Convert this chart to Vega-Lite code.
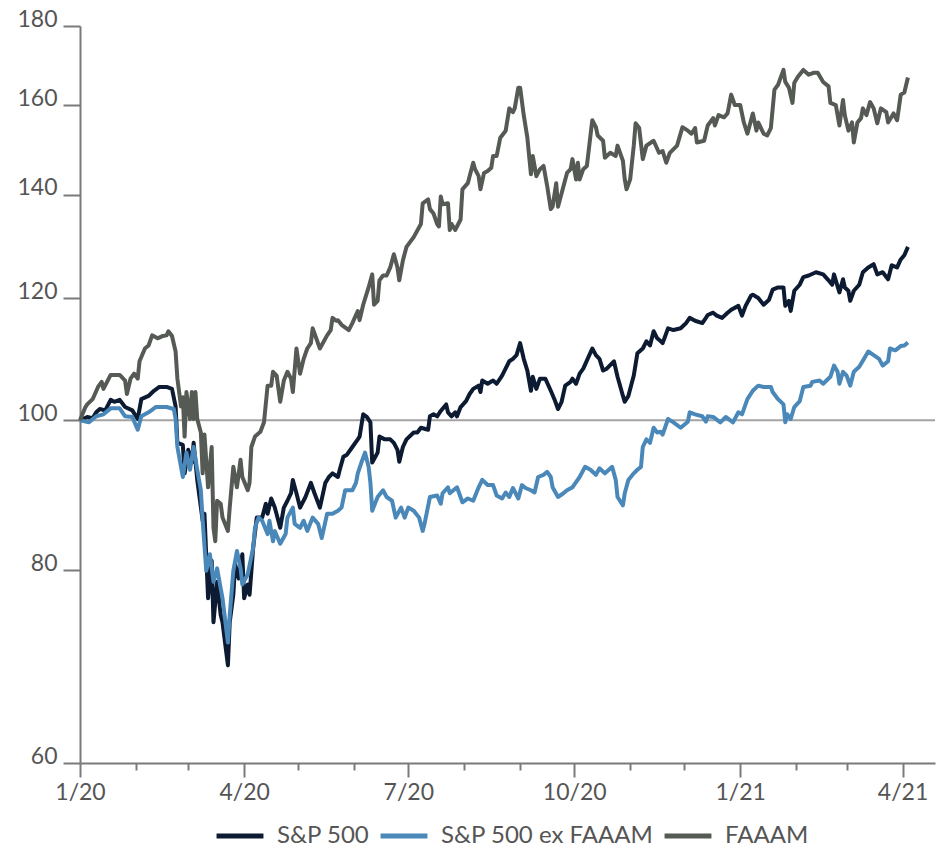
{
  "$schema": "https://vega.github.io/schema/vega-lite/v6.json",
  "width": 855,
  "height": 737,
  "autosize": {"type": "none"},
  "padding": {"left": 80, "top": 26, "right": 7, "bottom": 85},
  "background": "white",
  "config": {"view": {"stroke": null}},
  "data": {"values": [
{"date":"2020-01-01","series":"S&P 500","value":100},{"date":"2020-01-05","series":"S&P 500","value":100.5},{"date":"2020-01-08","series":"S&P 500","value":100.3},{"date":"2020-01-10","series":"S&P 500","value":101.2},{"date":"2020-01-12","series":"S&P 500","value":101.7},{"date":"2020-01-15","series":"S&P 500","value":101.5},{"date":"2020-01-18","series":"S&P 500","value":103.1},{"date":"2020-01-20","series":"S&P 500","value":102.8},{"date":"2020-01-23","series":"S&P 500","value":103.1},{"date":"2020-01-26","series":"S&P 500","value":102.0},{"date":"2020-01-30","series":"S&P 500","value":101.5},{"date":"2020-02-02","series":"S&P 500","value":100.2},{"date":"2020-02-04","series":"S&P 500","value":103.2},{"date":"2020-02-08","series":"S&P 500","value":103.7},{"date":"2020-02-11","series":"S&P 500","value":104.5},{"date":"2020-02-14","series":"S&P 500","value":105.1},{"date":"2020-02-18","series":"S&P 500","value":105.1},{"date":"2020-02-21","series":"S&P 500","value":104.8},{"date":"2020-02-23","series":"S&P 500","value":102.1},{"date":"2020-02-24","series":"S&P 500","value":96.7},{"date":"2020-02-27","series":"S&P 500","value":96.4},{"date":"2020-02-28","series":"S&P 500","value":92.4},{"date":"2020-03-01","series":"S&P 500","value":95.7},{"date":"2020-03-03","series":"S&P 500","value":93.9},{"date":"2020-03-04","series":"S&P 500","value":96.7},{"date":"2020-03-06","series":"S&P 500","value":91.5},{"date":"2020-03-09","series":"S&P 500","value":86.1},{"date":"2020-03-10","series":"S&P 500","value":87.0},{"date":"2020-03-12","series":"S&P 500","value":76.7},{"date":"2020-03-14","series":"S&P 500","value":81.1},{"date":"2020-03-15","series":"S&P 500","value":74.0},{"date":"2020-03-17","series":"S&P 500","value":78.6},{"date":"2020-03-19","series":"S&P 500","value":74.8},{"date":"2020-03-20","series":"S&P 500","value":74.0},{"date":"2020-03-23","series":"S&P 500","value":69.4},{"date":"2020-03-24","series":"S&P 500","value":74.0},{"date":"2020-03-26","series":"S&P 500","value":77.1},{"date":"2020-03-27","series":"S&P 500","value":80.7},{"date":"2020-03-29","series":"S&P 500","value":79.0},{"date":"2020-03-31","series":"S&P 500","value":81.9},{"date":"2020-04-01","series":"S&P 500","value":76.7},{"date":"2020-04-03","series":"S&P 500","value":78.3},{"date":"2020-04-04","series":"S&P 500","value":77.1},{"date":"2020-04-06","series":"S&P 500","value":82.7},{"date":"2020-04-08","series":"S&P 500","value":86.5},{"date":"2020-04-11","series":"S&P 500","value":86.5},{"date":"2020-04-13","series":"S&P 500","value":88.3},{"date":"2020-04-14","series":"S&P 500","value":87.0},{"date":"2020-04-16","series":"S&P 500","value":89.0},{"date":"2020-04-18","series":"S&P 500","value":87.8},{"date":"2020-04-21","series":"S&P 500","value":85.2},{"date":"2020-04-23","series":"S&P 500","value":87.8},{"date":"2020-04-25","series":"S&P 500","value":88.7},{"date":"2020-04-27","series":"S&P 500","value":89.7},{"date":"2020-04-28","series":"S&P 500","value":91.5},{"date":"2020-04-30","series":"S&P 500","value":89.7},{"date":"2020-05-02","series":"S&P 500","value":87.8},{"date":"2020-05-05","series":"S&P 500","value":89.2},{"date":"2020-05-08","series":"S&P 500","value":91.1},{"date":"2020-05-10","series":"S&P 500","value":89.7},{"date":"2020-05-13","series":"S&P 500","value":87.8},{"date":"2020-05-16","series":"S&P 500","value":91.1},{"date":"2020-05-18","series":"S&P 500","value":91.9},{"date":"2020-05-20","series":"S&P 500","value":92.4},{"date":"2020-05-23","series":"S&P 500","value":91.9},{"date":"2020-05-24","series":"S&P 500","value":92.9},{"date":"2020-05-26","series":"S&P 500","value":94.7},{"date":"2020-05-28","series":"S&P 500","value":95.0},{"date":"2020-05-31","series":"S&P 500","value":96.1},{"date":"2020-06-03","series":"S&P 500","value":97.2},{"date":"2020-06-04","series":"S&P 500","value":97.6},{"date":"2020-06-06","series":"S&P 500","value":100.9},{"date":"2020-06-08","series":"S&P 500","value":100.5},{"date":"2020-06-10","series":"S&P 500","value":99.7},{"date":"2020-06-11","series":"S&P 500","value":93.9},{"date":"2020-06-14","series":"S&P 500","value":95.3},{"date":"2020-06-15","series":"S&P 500","value":97.6},{"date":"2020-06-18","series":"S&P 500","value":97.2},{"date":"2020-06-21","series":"S&P 500","value":97.2},{"date":"2020-06-23","series":"S&P 500","value":96.7},{"date":"2020-06-25","series":"S&P 500","value":95.7},{"date":"2020-06-26","series":"S&P 500","value":94.0},{"date":"2020-06-28","series":"S&P 500","value":96.1},{"date":"2020-06-30","series":"S&P 500","value":97.2},{"date":"2020-07-04","series":"S&P 500","value":98.2},{"date":"2020-07-06","series":"S&P 500","value":98.2},{"date":"2020-07-08","series":"S&P 500","value":98.9},{"date":"2020-07-12","series":"S&P 500","value":98.6},{"date":"2020-07-13","series":"S&P 500","value":100.6},{"date":"2020-07-15","series":"S&P 500","value":100.9},{"date":"2020-07-17","series":"S&P 500","value":100.6},{"date":"2020-07-19","series":"S&P 500","value":101.4},{"date":"2020-07-22","series":"S&P 500","value":102.4},{"date":"2020-07-23","series":"S&P 500","value":101.2},{"date":"2020-07-25","series":"S&P 500","value":100.6},{"date":"2020-07-27","series":"S&P 500","value":101.2},{"date":"2020-07-28","series":"S&P 500","value":100.6},{"date":"2020-07-30","series":"S&P 500","value":102.0},{"date":"2020-08-02","series":"S&P 500","value":102.9},{"date":"2020-08-04","series":"S&P 500","value":104.0},{"date":"2020-08-06","series":"S&P 500","value":104.8},{"date":"2020-08-09","series":"S&P 500","value":105.3},{"date":"2020-08-10","series":"S&P 500","value":104.3},{"date":"2020-08-11","series":"S&P 500","value":106.1},{"date":"2020-08-14","series":"S&P 500","value":105.6},{"date":"2020-08-17","series":"S&P 500","value":106.1},{"date":"2020-08-19","series":"S&P 500","value":105.6},{"date":"2020-08-22","series":"S&P 500","value":106.9},{"date":"2020-08-26","series":"S&P 500","value":109.2},{"date":"2020-08-28","series":"S&P 500","value":109.6},{"date":"2020-08-30","series":"S&P 500","value":110.2},{"date":"2020-09-01","series":"S&P 500","value":112.2},{"date":"2020-09-03","series":"S&P 500","value":109.6},{"date":"2020-09-05","series":"S&P 500","value":107.7},{"date":"2020-09-07","series":"S&P 500","value":104.5},{"date":"2020-09-08","series":"S&P 500","value":106.7},{"date":"2020-09-10","series":"S&P 500","value":104.8},{"date":"2020-09-12","series":"S&P 500","value":106.4},{"date":"2020-09-15","series":"S&P 500","value":106.4},{"date":"2020-09-18","series":"S&P 500","value":104.5},{"date":"2020-09-20","series":"S&P 500","value":103.2},{"date":"2020-09-22","series":"S&P 500","value":101.7},{"date":"2020-09-24","series":"S&P 500","value":102.8},{"date":"2020-09-26","series":"S&P 500","value":105.3},{"date":"2020-09-29","series":"S&P 500","value":105.9},{"date":"2020-09-30","series":"S&P 500","value":106.4},{"date":"2020-10-02","series":"S&P 500","value":105.6},{"date":"2020-10-04","series":"S&P 500","value":107.2},{"date":"2020-10-06","series":"S&P 500","value":108.0},{"date":"2020-10-08","series":"S&P 500","value":109.3},{"date":"2020-10-11","series":"S&P 500","value":111.3},{"date":"2020-10-13","series":"S&P 500","value":110.2},{"date":"2020-10-15","series":"S&P 500","value":109.6},{"date":"2020-10-17","series":"S&P 500","value":107.7},{"date":"2020-10-19","series":"S&P 500","value":108.0},{"date":"2020-10-23","series":"S&P 500","value":109.2},{"date":"2020-10-25","series":"S&P 500","value":106.7},{"date":"2020-10-28","series":"S&P 500","value":103.7},{"date":"2020-10-29","series":"S&P 500","value":102.8},{"date":"2020-10-31","series":"S&P 500","value":103.7},{"date":"2020-11-03","series":"S&P 500","value":106.9},{"date":"2020-11-05","series":"S&P 500","value":110.5},{"date":"2020-11-08","series":"S&P 500","value":111.3},{"date":"2020-11-10","series":"S&P 500","value":112.5},{"date":"2020-11-12","series":"S&P 500","value":111.8},{"date":"2020-11-14","series":"S&P 500","value":114.2},{"date":"2020-11-16","series":"S&P 500","value":113.0},{"date":"2020-11-18","series":"S&P 500","value":112.5},{"date":"2020-11-19","series":"S&P 500","value":112.2},{"date":"2020-11-20","series":"S&P 500","value":113.0},{"date":"2020-11-22","series":"S&P 500","value":114.7},{"date":"2020-11-25","series":"S&P 500","value":114.4},{"date":"2020-11-29","series":"S&P 500","value":114.7},{"date":"2020-12-02","series":"S&P 500","value":115.6},{"date":"2020-12-04","series":"S&P 500","value":116.5},{"date":"2020-12-07","series":"S&P 500","value":116.0},{"date":"2020-12-11","series":"S&P 500","value":115.6},{"date":"2020-12-13","series":"S&P 500","value":116.5},{"date":"2020-12-14","series":"S&P 500","value":117.0},{"date":"2020-12-17","series":"S&P 500","value":117.4},{"date":"2020-12-19","series":"S&P 500","value":116.9},{"date":"2020-12-22","series":"S&P 500","value":116.5},{"date":"2020-12-25","series":"S&P 500","value":117.4},{"date":"2020-12-27","series":"S&P 500","value":117.9},{"date":"2020-12-31","series":"S&P 500","value":118.6},{"date":"2021-01-02","series":"S&P 500","value":116.9},{"date":"2021-01-04","series":"S&P 500","value":118.6},{"date":"2021-01-07","series":"S&P 500","value":120.4},{"date":"2021-01-08","series":"S&P 500","value":120.6},{"date":"2021-01-11","series":"S&P 500","value":120.0},{"date":"2021-01-14","series":"S&P 500","value":118.8},{"date":"2021-01-17","series":"S&P 500","value":119.7},{"date":"2021-01-19","series":"S&P 500","value":121.5},{"date":"2021-01-22","series":"S&P 500","value":121.9},{"date":"2021-01-25","series":"S&P 500","value":121.9},{"date":"2021-01-26","series":"S&P 500","value":118.6},{"date":"2021-01-28","series":"S&P 500","value":119.5},{"date":"2021-01-29","series":"S&P 500","value":117.7},{"date":"2021-01-31","series":"S&P 500","value":121.3},{"date":"2021-02-03","series":"S&P 500","value":122.4},{"date":"2021-02-05","series":"S&P 500","value":123.8},{"date":"2021-02-08","series":"S&P 500","value":124.1},{"date":"2021-02-12","series":"S&P 500","value":124.7},{"date":"2021-02-16","series":"S&P 500","value":124.3},{"date":"2021-02-19","series":"S&P 500","value":123.2},{"date":"2021-02-21","series":"S&P 500","value":122.4},{"date":"2021-02-22","series":"S&P 500","value":124.3},{"date":"2021-02-25","series":"S&P 500","value":121.0},{"date":"2021-02-27","series":"S&P 500","value":123.4},{"date":"2021-02-28","series":"S&P 500","value":121.9},{"date":"2021-03-02","series":"S&P 500","value":121.3},{"date":"2021-03-03","series":"S&P 500","value":119.5},{"date":"2021-03-05","series":"S&P 500","value":121.3},{"date":"2021-03-08","series":"S&P 500","value":122.4},{"date":"2021-03-10","series":"S&P 500","value":124.7},{"date":"2021-03-13","series":"S&P 500","value":125.6},{"date":"2021-03-16","series":"S&P 500","value":126.2},{"date":"2021-03-18","series":"S&P 500","value":124.3},{"date":"2021-03-21","series":"S&P 500","value":124.7},{"date":"2021-03-24","series":"S&P 500","value":123.4},{"date":"2021-03-26","series":"S&P 500","value":126.0},{"date":"2021-03-29","series":"S&P 500","value":125.6},{"date":"2021-03-31","series":"S&P 500","value":127.1},{"date":"2021-04-02","series":"S&P 500","value":127.9},{"date":"2021-04-04","series":"S&P 500","value":129.5},
{"date":"2020-01-01","series":"S&P 500 ex FAAAM","value":100},{"date":"2020-01-06","series":"S&P 500 ex FAAAM","value":99.7},{"date":"2020-01-10","series":"S&P 500 ex FAAAM","value":100.6},{"date":"2020-01-14","series":"S&P 500 ex FAAAM","value":100.9},{"date":"2020-01-18","series":"S&P 500 ex FAAAM","value":101.8},{"date":"2020-01-23","series":"S&P 500 ex FAAAM","value":101.8},{"date":"2020-01-26","series":"S&P 500 ex FAAAM","value":100.6},{"date":"2020-01-30","series":"S&P 500 ex FAAAM","value":100.5},{"date":"2020-02-02","series":"S&P 500 ex FAAAM","value":98.6},{"date":"2020-02-04","series":"S&P 500 ex FAAAM","value":100.6},{"date":"2020-02-08","series":"S&P 500 ex FAAAM","value":101.2},{"date":"2020-02-12","series":"S&P 500 ex FAAAM","value":102.0},{"date":"2020-02-18","series":"S&P 500 ex FAAAM","value":102.0},{"date":"2020-02-22","series":"S&P 500 ex FAAAM","value":101.7},{"date":"2020-02-23","series":"S&P 500 ex FAAAM","value":100.2},{"date":"2020-02-24","series":"S&P 500 ex FAAAM","value":96.1},{"date":"2020-02-27","series":"S&P 500 ex FAAAM","value":91.9},{"date":"2020-02-29","series":"S&P 500 ex FAAAM","value":95.3},{"date":"2020-03-02","series":"S&P 500 ex FAAAM","value":92.9},{"date":"2020-03-04","series":"S&P 500 ex FAAAM","value":96.1},{"date":"2020-03-06","series":"S&P 500 ex FAAAM","value":92.9},{"date":"2020-03-08","series":"S&P 500 ex FAAAM","value":90.1},{"date":"2020-03-09","series":"S&P 500 ex FAAAM","value":86.1},{"date":"2020-03-11","series":"S&P 500 ex FAAAM","value":79.9},{"date":"2020-03-13","series":"S&P 500 ex FAAAM","value":81.9},{"date":"2020-03-15","series":"S&P 500 ex FAAAM","value":78.6},{"date":"2020-03-17","series":"S&P 500 ex FAAAM","value":80.2},{"date":"2020-03-20","series":"S&P 500 ex FAAAM","value":76.7},{"date":"2020-03-23","series":"S&P 500 ex FAAAM","value":71.8},{"date":"2020-03-24","series":"S&P 500 ex FAAAM","value":74.8},{"date":"2020-03-26","series":"S&P 500 ex FAAAM","value":79.9},{"date":"2020-03-28","series":"S&P 500 ex FAAAM","value":82.3},{"date":"2020-03-30","series":"S&P 500 ex FAAAM","value":80.2},{"date":"2020-03-31","series":"S&P 500 ex FAAAM","value":78.3},{"date":"2020-04-03","series":"S&P 500 ex FAAAM","value":79.5},{"date":"2020-04-06","series":"S&P 500 ex FAAAM","value":82.7},{"date":"2020-04-07","series":"S&P 500 ex FAAAM","value":85.2},{"date":"2020-04-09","series":"S&P 500 ex FAAAM","value":86.5},{"date":"2020-04-11","series":"S&P 500 ex FAAAM","value":86.1},{"date":"2020-04-14","series":"S&P 500 ex FAAAM","value":84.4},{"date":"2020-04-15","series":"S&P 500 ex FAAAM","value":86.1},{"date":"2020-04-17","series":"S&P 500 ex FAAAM","value":83.5},{"date":"2020-04-18","series":"S&P 500 ex FAAAM","value":84.8},{"date":"2020-04-21","series":"S&P 500 ex FAAAM","value":83.2},{"date":"2020-04-24","series":"S&P 500 ex FAAAM","value":84.4},{"date":"2020-04-25","series":"S&P 500 ex FAAAM","value":86.5},{"date":"2020-04-28","series":"S&P 500 ex FAAAM","value":87.8},{"date":"2020-04-29","series":"S&P 500 ex FAAAM","value":85.7},{"date":"2020-05-02","series":"S&P 500 ex FAAAM","value":85.2},{"date":"2020-05-04","series":"S&P 500 ex FAAAM","value":86.1},{"date":"2020-05-06","series":"S&P 500 ex FAAAM","value":84.8},{"date":"2020-05-09","series":"S&P 500 ex FAAAM","value":86.5},{"date":"2020-05-12","series":"S&P 500 ex FAAAM","value":85.7},{"date":"2020-05-14","series":"S&P 500 ex FAAAM","value":83.9},{"date":"2020-05-17","series":"S&P 500 ex FAAAM","value":87.0},{"date":"2020-05-20","series":"S&P 500 ex FAAAM","value":87.0},{"date":"2020-05-23","series":"S&P 500 ex FAAAM","value":87.4},{"date":"2020-05-25","series":"S&P 500 ex FAAAM","value":87.8},{"date":"2020-05-27","series":"S&P 500 ex FAAAM","value":90.1},{"date":"2020-05-31","series":"S&P 500 ex FAAAM","value":90.1},{"date":"2020-06-02","series":"S&P 500 ex FAAAM","value":91.1},{"date":"2020-06-03","series":"S&P 500 ex FAAAM","value":92.4},{"date":"2020-06-05","series":"S&P 500 ex FAAAM","value":93.9},{"date":"2020-06-07","series":"S&P 500 ex FAAAM","value":95.3},{"date":"2020-06-09","series":"S&P 500 ex FAAAM","value":93.3},{"date":"2020-06-10","series":"S&P 500 ex FAAAM","value":91.1},{"date":"2020-06-11","series":"S&P 500 ex FAAAM","value":87.4},{"date":"2020-06-14","series":"S&P 500 ex FAAAM","value":89.2},{"date":"2020-06-17","series":"S&P 500 ex FAAAM","value":90.1},{"date":"2020-06-19","series":"S&P 500 ex FAAAM","value":89.2},{"date":"2020-06-22","series":"S&P 500 ex FAAAM","value":88.7},{"date":"2020-06-24","series":"S&P 500 ex FAAAM","value":86.5},{"date":"2020-06-27","series":"S&P 500 ex FAAAM","value":87.8},{"date":"2020-06-29","series":"S&P 500 ex FAAAM","value":86.5},{"date":"2020-07-01","series":"S&P 500 ex FAAAM","value":87.8},{"date":"2020-07-04","series":"S&P 500 ex FAAAM","value":87.4},{"date":"2020-07-07","series":"S&P 500 ex FAAAM","value":86.5},{"date":"2020-07-09","series":"S&P 500 ex FAAAM","value":84.8},{"date":"2020-07-10","series":"S&P 500 ex FAAAM","value":85.7},{"date":"2020-07-13","series":"S&P 500 ex FAAAM","value":89.2},{"date":"2020-07-17","series":"S&P 500 ex FAAAM","value":89.4},{"date":"2020-07-19","series":"S&P 500 ex FAAAM","value":88.3},{"date":"2020-07-20","series":"S&P 500 ex FAAAM","value":89.7},{"date":"2020-07-23","series":"S&P 500 ex FAAAM","value":90.5},{"date":"2020-07-24","series":"S&P 500 ex FAAAM","value":89.7},{"date":"2020-07-28","series":"S&P 500 ex FAAAM","value":90.5},{"date":"2020-07-31","series":"S&P 500 ex FAAAM","value":88.5},{"date":"2020-08-03","series":"S&P 500 ex FAAAM","value":89.0},{"date":"2020-08-06","series":"S&P 500 ex FAAAM","value":88.7},{"date":"2020-08-09","series":"S&P 500 ex FAAAM","value":90.5},{"date":"2020-08-11","series":"S&P 500 ex FAAAM","value":91.5},{"date":"2020-08-14","series":"S&P 500 ex FAAAM","value":90.8},{"date":"2020-08-17","series":"S&P 500 ex FAAAM","value":90.8},{"date":"2020-08-19","series":"S&P 500 ex FAAAM","value":89.4},{"date":"2020-08-22","series":"S&P 500 ex FAAAM","value":89.0},{"date":"2020-08-24","series":"S&P 500 ex FAAAM","value":89.8},{"date":"2020-08-26","series":"S&P 500 ex FAAAM","value":89.2},{"date":"2020-08-28","series":"S&P 500 ex FAAAM","value":90.4},{"date":"2020-08-31","series":"S&P 500 ex FAAAM","value":89.0},{"date":"2020-09-02","series":"S&P 500 ex FAAAM","value":90.8},{"date":"2020-09-04","series":"S&P 500 ex FAAAM","value":90.4},{"date":"2020-09-07","series":"S&P 500 ex FAAAM","value":90.1},{"date":"2020-09-09","series":"S&P 500 ex FAAAM","value":89.8},{"date":"2020-09-11","series":"S&P 500 ex FAAAM","value":91.9},{"date":"2020-09-14","series":"S&P 500 ex FAAAM","value":92.2},{"date":"2020-09-16","series":"S&P 500 ex FAAAM","value":92.6},{"date":"2020-09-18","series":"S&P 500 ex FAAAM","value":91.9},{"date":"2020-09-19","series":"S&P 500 ex FAAAM","value":90.5},{"date":"2020-09-22","series":"S&P 500 ex FAAAM","value":89.2},{"date":"2020-09-25","series":"S&P 500 ex FAAAM","value":89.7},{"date":"2020-09-27","series":"S&P 500 ex FAAAM","value":90.1},{"date":"2020-09-30","series":"S&P 500 ex FAAAM","value":90.5},{"date":"2020-10-02","series":"S&P 500 ex FAAAM","value":91.2},{"date":"2020-10-04","series":"S&P 500 ex FAAAM","value":91.9},{"date":"2020-10-07","series":"S&P 500 ex FAAAM","value":93.3},{"date":"2020-10-10","series":"S&P 500 ex FAAAM","value":92.9},{"date":"2020-10-13","series":"S&P 500 ex FAAAM","value":92.2},{"date":"2020-10-15","series":"S&P 500 ex FAAAM","value":93.1},{"date":"2020-10-18","series":"S&P 500 ex FAAAM","value":92.4},{"date":"2020-10-22","series":"S&P 500 ex FAAAM","value":93.3},{"date":"2020-10-24","series":"S&P 500 ex FAAAM","value":91.5},{"date":"2020-10-25","series":"S&P 500 ex FAAAM","value":89.2},{"date":"2020-10-28","series":"S&P 500 ex FAAAM","value":88.1},{"date":"2020-10-29","series":"S&P 500 ex FAAAM","value":89.7},{"date":"2020-10-31","series":"S&P 500 ex FAAAM","value":91.5},{"date":"2020-11-03","series":"S&P 500 ex FAAAM","value":92.4},{"date":"2020-11-05","series":"S&P 500 ex FAAAM","value":92.9},{"date":"2020-11-07","series":"S&P 500 ex FAAAM","value":93.3},{"date":"2020-11-08","series":"S&P 500 ex FAAAM","value":96.1},{"date":"2020-11-10","series":"S&P 500 ex FAAAM","value":97.2},{"date":"2020-11-12","series":"S&P 500 ex FAAAM","value":96.7},{"date":"2020-11-14","series":"S&P 500 ex FAAAM","value":98.9},{"date":"2020-11-16","series":"S&P 500 ex FAAAM","value":98.2},{"date":"2020-11-18","series":"S&P 500 ex FAAAM","value":98.3},{"date":"2020-11-19","series":"S&P 500 ex FAAAM","value":97.9},{"date":"2020-11-22","series":"S&P 500 ex FAAAM","value":100.2},{"date":"2020-11-25","series":"S&P 500 ex FAAAM","value":99.7},{"date":"2020-11-29","series":"S&P 500 ex FAAAM","value":98.9},{"date":"2020-12-03","series":"S&P 500 ex FAAAM","value":99.8},{"date":"2020-12-04","series":"S&P 500 ex FAAAM","value":101.2},{"date":"2020-12-07","series":"S&P 500 ex FAAAM","value":100.9},{"date":"2020-12-11","series":"S&P 500 ex FAAAM","value":100.6},{"date":"2020-12-13","series":"S&P 500 ex FAAAM","value":99.8},{"date":"2020-12-14","series":"S&P 500 ex FAAAM","value":100.6},{"date":"2020-12-17","series":"S&P 500 ex FAAAM","value":100.5},{"date":"2020-12-21","series":"S&P 500 ex FAAAM","value":99.7},{"date":"2020-12-24","series":"S&P 500 ex FAAAM","value":100.5},{"date":"2020-12-28","series":"S&P 500 ex FAAAM","value":99.7},{"date":"2020-12-31","series":"S&P 500 ex FAAAM","value":101.2},{"date":"2021-01-02","series":"S&P 500 ex FAAAM","value":100.9},{"date":"2021-01-05","series":"S&P 500 ex FAAAM","value":103.2},{"date":"2021-01-08","series":"S&P 500 ex FAAAM","value":104.5},{"date":"2021-01-11","series":"S&P 500 ex FAAAM","value":105.3},{"date":"2021-01-14","series":"S&P 500 ex FAAAM","value":105.1},{"date":"2021-01-18","series":"S&P 500 ex FAAAM","value":105.1},{"date":"2021-01-19","series":"S&P 500 ex FAAAM","value":104.3},{"date":"2021-01-22","series":"S&P 500 ex FAAAM","value":103.2},{"date":"2021-01-25","series":"S&P 500 ex FAAAM","value":102.4},{"date":"2021-01-26","series":"S&P 500 ex FAAAM","value":99.7},{"date":"2021-01-27","series":"S&P 500 ex FAAAM","value":100.9},{"date":"2021-01-29","series":"S&P 500 ex FAAAM","value":100.2},{"date":"2021-01-31","series":"S&P 500 ex FAAAM","value":102.0},{"date":"2021-02-03","series":"S&P 500 ex FAAAM","value":102.9},{"date":"2021-02-05","series":"S&P 500 ex FAAAM","value":105.1},{"date":"2021-02-09","series":"S&P 500 ex FAAAM","value":105.3},{"date":"2021-02-10","series":"S&P 500 ex FAAAM","value":105.9},{"date":"2021-02-14","series":"S&P 500 ex FAAAM","value":106.1},{"date":"2021-02-16","series":"S&P 500 ex FAAAM","value":105.6},{"date":"2021-02-20","series":"S&P 500 ex FAAAM","value":106.7},{"date":"2021-02-22","series":"S&P 500 ex FAAAM","value":108.5},{"date":"2021-02-24","series":"S&P 500 ex FAAAM","value":107.5},{"date":"2021-02-25","series":"S&P 500 ex FAAAM","value":105.6},{"date":"2021-02-27","series":"S&P 500 ex FAAAM","value":107.5},{"date":"2021-03-01","series":"S&P 500 ex FAAAM","value":106.9},{"date":"2021-03-03","series":"S&P 500 ex FAAAM","value":105.3},{"date":"2021-03-05","series":"S&P 500 ex FAAAM","value":107.5},{"date":"2021-03-08","series":"S&P 500 ex FAAAM","value":108.3},{"date":"2021-03-10","series":"S&P 500 ex FAAAM","value":109.3},{"date":"2021-03-13","series":"S&P 500 ex FAAAM","value":110.8},{"date":"2021-03-16","series":"S&P 500 ex FAAAM","value":110.2},{"date":"2021-03-19","series":"S&P 500 ex FAAAM","value":109.6},{"date":"2021-03-21","series":"S&P 500 ex FAAAM","value":108.5},{"date":"2021-03-24","series":"S&P 500 ex FAAAM","value":109.2},{"date":"2021-03-25","series":"S&P 500 ex FAAAM","value":111.3},{"date":"2021-03-28","series":"S&P 500 ex FAAAM","value":111.0},{"date":"2021-03-31","series":"S&P 500 ex FAAAM","value":111.7},{"date":"2021-04-02","series":"S&P 500 ex FAAAM","value":111.8},{"date":"2021-04-04","series":"S&P 500 ex FAAAM","value":112.3},
{"date":"2020-01-01","series":"FAAAM","value":100},{"date":"2020-01-04","series":"FAAAM","value":102.0},{"date":"2020-01-05","series":"FAAAM","value":102.4},{"date":"2020-01-08","series":"FAAAM","value":103.2},{"date":"2020-01-11","series":"FAAAM","value":105.1},{"date":"2020-01-13","series":"FAAAM","value":105.9},{"date":"2020-01-14","series":"FAAAM","value":104.8},{"date":"2020-01-18","series":"FAAAM","value":107.0},{"date":"2020-01-23","series":"FAAAM","value":107.0},{"date":"2020-01-26","series":"FAAAM","value":106.1},{"date":"2020-01-27","series":"FAAAM","value":104.0},{"date":"2020-01-29","series":"FAAAM","value":106.4},{"date":"2020-01-31","series":"FAAAM","value":107.2},{"date":"2020-02-02","series":"FAAAM","value":106.4},{"date":"2020-02-03","series":"FAAAM","value":109.2},{"date":"2020-02-06","series":"FAAAM","value":111.3},{"date":"2020-02-08","series":"FAAAM","value":111.8},{"date":"2020-02-10","series":"FAAAM","value":113.5},{"date":"2020-02-13","series":"FAAAM","value":113.0},{"date":"2020-02-16","series":"FAAAM","value":113.4},{"date":"2020-02-18","series":"FAAAM","value":113.5},{"date":"2020-02-19","series":"FAAAM","value":114.2},{"date":"2020-02-21","series":"FAAAM","value":113.4},{"date":"2020-02-23","series":"FAAAM","value":110.8},{"date":"2020-02-24","series":"FAAAM","value":106.4},{"date":"2020-02-26","series":"FAAAM","value":102.1},{"date":"2020-02-27","series":"FAAAM","value":103.5},{"date":"2020-02-28","series":"FAAAM","value":97.6},{"date":"2020-02-29","series":"FAAAM","value":104.3},{"date":"2020-03-02","series":"FAAAM","value":100.2},{"date":"2020-03-03","series":"FAAAM","value":104.3},{"date":"2020-03-04","series":"FAAAM","value":100.2},{"date":"2020-03-05","series":"FAAAM","value":104.3},{"date":"2020-03-06","series":"FAAAM","value":100.2},{"date":"2020-03-08","series":"FAAAM","value":98.2},{"date":"2020-03-09","series":"FAAAM","value":92.4},{"date":"2020-03-10","series":"FAAAM","value":97.9},{"date":"2020-03-12","series":"FAAAM","value":90.5},{"date":"2020-03-14","series":"FAAAM","value":96.1},{"date":"2020-03-15","series":"FAAAM","value":85.2},{"date":"2020-03-16","series":"FAAAM","value":83.5},{"date":"2020-03-17","series":"FAAAM","value":88.7},{"date":"2020-03-19","series":"FAAAM","value":88.3},{"date":"2020-03-20","series":"FAAAM","value":86.5},{"date":"2020-03-23","series":"FAAAM","value":84.8},{"date":"2020-03-24","series":"FAAAM","value":87.8},{"date":"2020-03-25","series":"FAAAM","value":90.5},{"date":"2020-03-26","series":"FAAAM","value":93.3},{"date":"2020-03-28","series":"FAAAM","value":90.5},{"date":"2020-03-30","series":"FAAAM","value":94.3},{"date":"2020-03-31","series":"FAAAM","value":91.9},{"date":"2020-04-03","series":"FAAAM","value":90.1},{"date":"2020-04-04","series":"FAAAM","value":91.1},{"date":"2020-04-05","series":"FAAAM","value":96.1},{"date":"2020-04-07","series":"FAAAM","value":97.6},{"date":"2020-04-10","series":"FAAAM","value":98.3},{"date":"2020-04-12","series":"FAAAM","value":99.7},{"date":"2020-04-14","series":"FAAAM","value":105.3},{"date":"2020-04-16","series":"FAAAM","value":105.3},{"date":"2020-04-17","series":"FAAAM","value":107.5},{"date":"2020-04-19","series":"FAAAM","value":106.9},{"date":"2020-04-21","series":"FAAAM","value":102.8},{"date":"2020-04-23","series":"FAAAM","value":106.1},{"date":"2020-04-25","series":"FAAAM","value":107.5},{"date":"2020-04-27","series":"FAAAM","value":106.4},{"date":"2020-04-28","series":"FAAAM","value":104.3},{"date":"2020-04-30","series":"FAAAM","value":111.3},{"date":"2020-05-02","series":"FAAAM","value":107.2},{"date":"2020-05-04","series":"FAAAM","value":109.6},{"date":"2020-05-06","series":"FAAAM","value":111.3},{"date":"2020-05-08","series":"FAAAM","value":112.2},{"date":"2020-05-09","series":"FAAAM","value":114.7},{"date":"2020-05-13","series":"FAAAM","value":111.3},{"date":"2020-05-17","series":"FAAAM","value":113.5},{"date":"2020-05-19","series":"FAAAM","value":114.4},{"date":"2020-05-20","series":"FAAAM","value":116.5},{"date":"2020-05-22","series":"FAAAM","value":116.0},{"date":"2020-05-23","series":"FAAAM","value":116.1},{"date":"2020-05-25","series":"FAAAM","value":115.3},{"date":"2020-05-29","series":"FAAAM","value":114.4},{"date":"2020-05-31","series":"FAAAM","value":115.6},{"date":"2020-06-02","series":"FAAAM","value":117.0},{"date":"2020-06-03","series":"FAAAM","value":117.7},{"date":"2020-06-04","series":"FAAAM","value":116.1},{"date":"2020-06-06","series":"FAAAM","value":118.8},{"date":"2020-06-09","series":"FAAAM","value":121.9},{"date":"2020-06-11","series":"FAAAM","value":124.3},{"date":"2020-06-12","series":"FAAAM","value":118.8},{"date":"2020-06-14","series":"FAAAM","value":119.5},{"date":"2020-06-15","series":"FAAAM","value":123.2},{"date":"2020-06-17","series":"FAAAM","value":124.1},{"date":"2020-06-19","series":"FAAAM","value":124.1},{"date":"2020-06-21","series":"FAAAM","value":125.6},{"date":"2020-06-23","series":"FAAAM","value":128.1},{"date":"2020-06-25","series":"FAAAM","value":125.6},{"date":"2020-06-26","series":"FAAAM","value":123.2},{"date":"2020-06-28","series":"FAAAM","value":126.9},{"date":"2020-06-30","series":"FAAAM","value":129.5},{"date":"2020-07-04","series":"FAAAM","value":131.4},{"date":"2020-07-08","series":"FAAAM","value":134.0},{"date":"2020-07-09","series":"FAAAM","value":138.2},{"date":"2020-07-12","series":"FAAAM","value":139.0},{"date":"2020-07-13","series":"FAAAM","value":137.0},{"date":"2020-07-15","series":"FAAAM","value":136.1},{"date":"2020-07-17","series":"FAAAM","value":134.0},{"date":"2020-07-18","series":"FAAAM","value":133.5},{"date":"2020-07-19","series":"FAAAM","value":139.6},{"date":"2020-07-20","series":"FAAAM","value":138.0},{"date":"2020-07-23","series":"FAAAM","value":138.2},{"date":"2020-07-24","series":"FAAAM","value":132.8},{"date":"2020-07-25","series":"FAAAM","value":134.0},{"date":"2020-07-27","series":"FAAAM","value":132.8},{"date":"2020-07-30","series":"FAAAM","value":134.9},{"date":"2020-07-31","series":"FAAAM","value":141.1},{"date":"2020-08-03","series":"FAAAM","value":142.4},{"date":"2020-08-04","series":"FAAAM","value":143.9},{"date":"2020-08-06","series":"FAAAM","value":146.8},{"date":"2020-08-07","series":"FAAAM","value":145.4},{"date":"2020-08-09","series":"FAAAM","value":143.9},{"date":"2020-08-10","series":"FAAAM","value":141.1},{"date":"2020-08-12","series":"FAAAM","value":144.6},{"date":"2020-08-14","series":"FAAAM","value":145.0},{"date":"2020-08-16","series":"FAAAM","value":145.7},{"date":"2020-08-17","series":"FAAAM","value":148.3},{"date":"2020-08-19","series":"FAAAM","value":148.3},{"date":"2020-08-21","series":"FAAAM","value":152.4},{"date":"2020-08-24","series":"FAAAM","value":154.0},{"date":"2020-08-26","series":"FAAAM","value":159.2},{"date":"2020-08-28","series":"FAAAM","value":158.3},{"date":"2020-08-29","series":"FAAAM","value":159.2},{"date":"2020-08-31","series":"FAAAM","value":164.2},{"date":"2020-09-01","series":"FAAAM","value":164.2},{"date":"2020-09-03","series":"FAAAM","value":157.6},{"date":"2020-09-05","series":"FAAAM","value":152.4},{"date":"2020-09-07","series":"FAAAM","value":144.3},{"date":"2020-09-08","series":"FAAAM","value":148.3},{"date":"2020-09-10","series":"FAAAM","value":143.9},{"date":"2020-09-12","series":"FAAAM","value":145.4},{"date":"2020-09-14","series":"FAAAM","value":146.1},{"date":"2020-09-16","series":"FAAAM","value":141.8},{"date":"2020-09-18","series":"FAAAM","value":137.0},{"date":"2020-09-19","series":"FAAAM","value":137.5},{"date":"2020-09-21","series":"FAAAM","value":142.4},{"date":"2020-09-22","series":"FAAAM","value":137.5},{"date":"2020-09-24","series":"FAAAM","value":140.3},{"date":"2020-09-27","series":"FAAAM","value":144.6},{"date":"2020-09-29","series":"FAAAM","value":145.4},{"date":"2020-09-30","series":"FAAAM","value":147.6},{"date":"2020-10-02","series":"FAAAM","value":143.2},{"date":"2020-10-03","series":"FAAAM","value":146.8},{"date":"2020-10-04","series":"FAAAM","value":143.2},{"date":"2020-10-06","series":"FAAAM","value":145.4},{"date":"2020-10-08","series":"FAAAM","value":146.1},{"date":"2020-10-11","series":"FAAAM","value":156.4},{"date":"2020-10-13","series":"FAAAM","value":154.8},{"date":"2020-10-14","series":"FAAAM","value":152.9},{"date":"2020-10-17","series":"FAAAM","value":151.7},{"date":"2020-10-18","series":"FAAAM","value":147.9},{"date":"2020-10-21","series":"FAAAM","value":149.0},{"date":"2020-10-24","series":"FAAAM","value":148.3},{"date":"2020-10-25","series":"FAAAM","value":150.6},{"date":"2020-10-28","series":"FAAAM","value":147.2},{"date":"2020-10-29","series":"FAAAM","value":143.2},{"date":"2020-10-30","series":"FAAAM","value":141.1},{"date":"2020-11-01","series":"FAAAM","value":143.2},{"date":"2020-11-03","series":"FAAAM","value":150.6},{"date":"2020-11-04","series":"FAAAM","value":155.7},{"date":"2020-11-06","series":"FAAAM","value":154.6},{"date":"2020-11-08","series":"FAAAM","value":147.6},{"date":"2020-11-10","series":"FAAAM","value":150.6},{"date":"2020-11-14","series":"FAAAM","value":151.7},{"date":"2020-11-17","series":"FAAAM","value":149.0},{"date":"2020-11-19","series":"FAAAM","value":149.4},{"date":"2020-11-21","series":"FAAAM","value":146.8},{"date":"2020-11-23","series":"FAAAM","value":149.0},{"date":"2020-11-27","series":"FAAAM","value":150.6},{"date":"2020-11-30","series":"FAAAM","value":154.8},{"date":"2020-12-03","series":"FAAAM","value":154.0},{"date":"2020-12-05","series":"FAAAM","value":153.3},{"date":"2020-12-07","series":"FAAAM","value":154.6},{"date":"2020-12-08","series":"FAAAM","value":151.3},{"date":"2020-12-12","series":"FAAAM","value":151.7},{"date":"2020-12-14","series":"FAAAM","value":155.2},{"date":"2020-12-17","series":"FAAAM","value":156.9},{"date":"2020-12-18","series":"FAAAM","value":155.2},{"date":"2020-12-20","series":"FAAAM","value":157.6},{"date":"2020-12-23","series":"FAAAM","value":157.1},{"date":"2020-12-25","series":"FAAAM","value":158.0},{"date":"2020-12-27","series":"FAAAM","value":162.5},{"date":"2020-12-29","series":"FAAAM","value":160.0},{"date":"2021-01-01","series":"FAAAM","value":160.0},{"date":"2021-01-03","series":"FAAAM","value":155.9},{"date":"2021-01-05","series":"FAAAM","value":153.3},{"date":"2021-01-08","series":"FAAAM","value":158.0},{"date":"2021-01-10","series":"FAAAM","value":154.0},{"date":"2021-01-11","series":"FAAAM","value":155.9},{"date":"2021-01-14","series":"FAAAM","value":153.3},{"date":"2021-01-16","series":"FAAAM","value":152.9},{"date":"2021-01-18","series":"FAAAM","value":154.6},{"date":"2021-01-20","series":"FAAAM","value":163.7},{"date":"2021-01-22","series":"FAAAM","value":164.9},{"date":"2021-01-25","series":"FAAAM","value":168.6},{"date":"2021-01-26","series":"FAAAM","value":165.6},{"date":"2021-01-28","series":"FAAAM","value":164.2},{"date":"2021-01-30","series":"FAAAM","value":160.5},{"date":"2021-01-31","series":"FAAAM","value":165.4},{"date":"2021-02-02","series":"FAAAM","value":166.9},{"date":"2021-02-05","series":"FAAAM","value":168.6},{"date":"2021-02-08","series":"FAAAM","value":167.4},{"date":"2021-02-11","series":"FAAAM","value":167.9},{"date":"2021-02-13","series":"FAAAM","value":167.9},{"date":"2021-02-16","series":"FAAAM","value":165.6},{"date":"2021-02-19","series":"FAAAM","value":164.5},{"date":"2021-02-20","series":"FAAAM","value":160.5},{"date":"2021-02-23","series":"FAAAM","value":160.0},{"date":"2021-02-25","series":"FAAAM","value":155.2},{"date":"2021-02-27","series":"FAAAM","value":161.2},{"date":"2021-02-28","series":"FAAAM","value":157.6},{"date":"2021-03-02","series":"FAAAM","value":154.0},{"date":"2021-03-04","series":"FAAAM","value":155.9},{"date":"2021-03-05","series":"FAAAM","value":151.3},{"date":"2021-03-07","series":"FAAAM","value":155.9},{"date":"2021-03-09","series":"FAAAM","value":156.9},{"date":"2021-03-10","series":"FAAAM","value":159.2},{"date":"2021-03-12","series":"FAAAM","value":157.6},{"date":"2021-03-14","series":"FAAAM","value":160.7},{"date":"2021-03-16","series":"FAAAM","value":159.2},{"date":"2021-03-18","series":"FAAAM","value":155.7},{"date":"2021-03-20","series":"FAAAM","value":159.2},{"date":"2021-03-23","series":"FAAAM","value":158.3},{"date":"2021-03-24","series":"FAAAM","value":155.9},{"date":"2021-03-27","series":"FAAAM","value":158.0},{"date":"2021-03-29","series":"FAAAM","value":156.4},{"date":"2021-03-31","series":"FAAAM","value":162.5},{"date":"2021-04-02","series":"FAAAM","value":163.0},{"date":"2021-04-04","series":"FAAAM","value":166.7}
  ]},
  "encoding": {
    "x": {
      "field": "date", "type": "temporal",
      "scale": {"type": "utc", "domain": [{"year": 2020, "month": 1, "date": 1, "utc": true}, {"year": 2021, "month": 4, "date": 19, "utc": true}]},
      "axis": {
        "title": null, "grid": false,
        "values": [{"year":2020,"month":1,"date":1,"utc":true},{"year":2020,"month":2,"date":1,"utc":true},{"year":2020,"month":3,"date":1,"utc":true},{"year":2020,"month":4,"date":1,"utc":true},{"year":2020,"month":5,"date":1,"utc":true},{"year":2020,"month":6,"date":1,"utc":true},{"year":2020,"month":7,"date":1,"utc":true},{"year":2020,"month":8,"date":1,"utc":true},{"year":2020,"month":9,"date":1,"utc":true},{"year":2020,"month":10,"date":1,"utc":true},{"year":2020,"month":11,"date":1,"utc":true},{"year":2020,"month":12,"date":1,"utc":true},{"year":2021,"month":1,"date":1,"utc":true},{"year":2021,"month":2,"date":1,"utc":true},{"year":2021,"month":3,"date":1,"utc":true},{"year":2021,"month":4,"date":1,"utc":true}],
        "labelExpr": "utcmonth(datum.value) % 3 == 0 ? utcFormat(datum.value, '%-m/%y') : ''",
        "tickSize": {"condition": {"test": "utcmonth(datum.value) % 3 == 0", "value": 14}, "value": 7},
        "tickWidth": 2, "tickColor": "#7a7a7a",
        "domainColor": "#7a7a7a", "domainWidth": 2,
        "labelFont": "Lato", "labelFontSize": 23, "labelColor": "#555555",
        "labelPadding": 4, "labelOverlap": false, "labelFlush": false
      }
    }
  },
  "layer": [
    {
      "data": {"values": [{"level": 100}]},
      "mark": {"type": "rule", "color": "#a3a3a3", "strokeWidth": 2},
      "encoding": {
        "x": null,
        "y": {"field": "level", "type": "quantitative", "scale": {"type": "log", "domain": [60, 180], "nice": false}}
      }
    },
    {
      "transform": [{"filter": "datum.series === 'S&P 500'"}],
      "mark": {"type": "line", "strokeWidth": 4, "strokeJoin": "round"},
      "encoding": {
        "y": {"field": "value", "type": "quantitative",
          "scale": {"type": "log", "domain": [60, 180], "nice": false},
          "axis": {"title": null, "grid": false, "values": [60, 80, 100, 120, 140, 160, 180], "format": "d",
            "tickSize": 17, "tickWidth": 2, "tickColor": "#7a7a7a", "domainColor": "#7a7a7a", "domainWidth": 2,
            "labelFont": "Lato", "labelFontSize": 23, "labelColor": "#555555", "labelPadding": 6,
            "labelBaseline": "alphabetic", "labelOverlap": false}},
        "color": {"field": "series", "type": "nominal",
          "scale": {"domain": ["S&P 500", "S&P 500 ex FAAAM", "FAAAM"], "range": ["#0d1b32", "#4a88ba", "#555a54"]},
          "legend": {"orient": "none", "legendX": 134, "legendY": 784, "direction": "horizontal", "title": null,
            "symbolType": "stroke", "symbolSize": 2200, "symbolStrokeWidth": 5,
            "labelFont": "Lato", "labelFontSize": 24, "labelColor": "#555555", "labelOffset": 11, "labelLimit": 0,
            "columnPadding": 0, "padding": 0}}
      }
    },
    {
      "transform": [{"filter": "datum.series === 'S&P 500 ex FAAAM'"}],
      "mark": {"type": "line", "strokeWidth": 4, "strokeJoin": "round"},
      "encoding": {
        "y": {"field": "value", "type": "quantitative", "scale": {"type": "log", "domain": [60, 180], "nice": false}},
        "color": {"field": "series", "type": "nominal",
          "scale": {"domain": ["S&P 500", "S&P 500 ex FAAAM", "FAAAM"], "range": ["#0d1b32", "#4a88ba", "#555a54"]}}
      }
    },
    {
      "transform": [{"filter": "datum.series === 'FAAAM'"}],
      "mark": {"type": "line", "strokeWidth": 4, "strokeJoin": "round"},
      "encoding": {
        "y": {"field": "value", "type": "quantitative", "scale": {"type": "log", "domain": [60, 180], "nice": false}},
        "color": {"field": "series", "type": "nominal",
          "scale": {"domain": ["S&P 500", "S&P 500 ex FAAAM", "FAAAM"], "range": ["#0d1b32", "#4a88ba", "#555a54"]}}
      }
    }
  ]
}
